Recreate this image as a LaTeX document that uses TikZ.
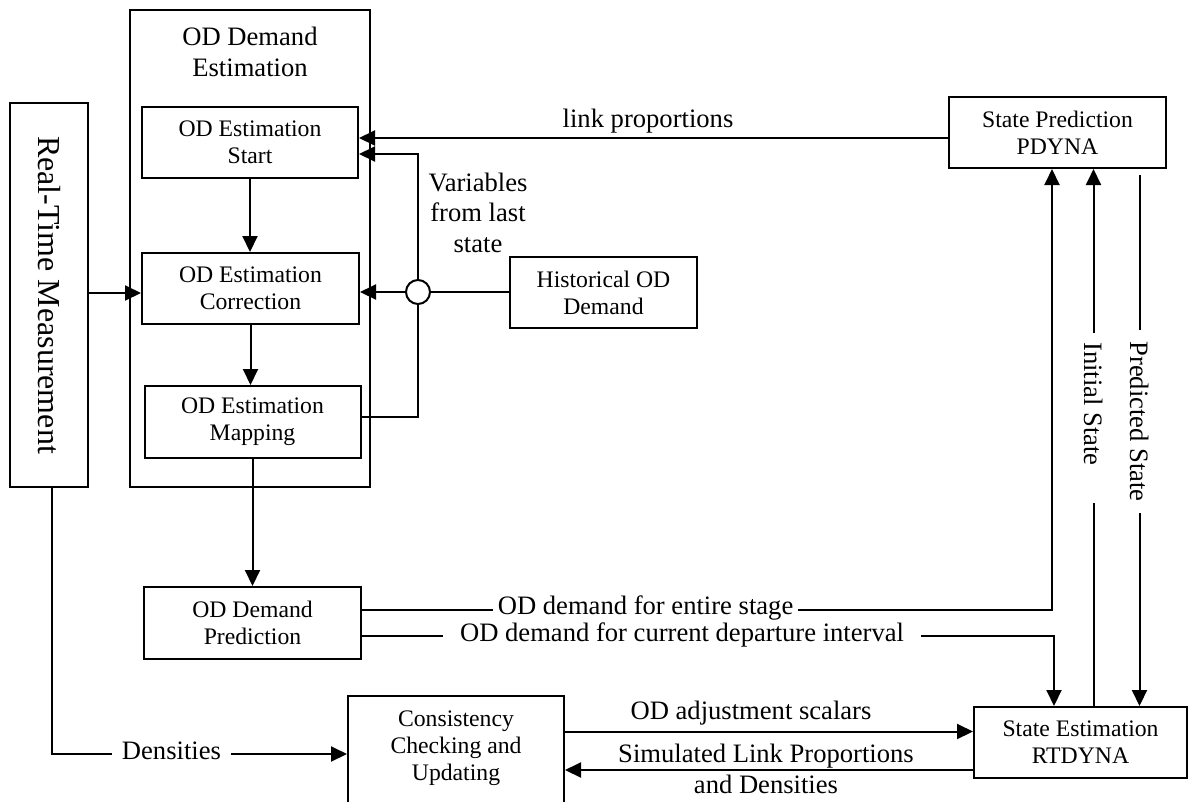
\documentclass[tikz,border=0pt]{standalone}
\usepackage{fontspec}
\setmainfont{Liberation Serif}
\usetikzlibrary{arrows.meta}
\newcommand\bxfont{\fontsize{23.7}{27}\selectfont}
\newcommand\lbfont{\fontsize{26.6}{30.5}\selectfont}
\newcommand\rtfont{\fontsize{32}{34}\selectfont}
\begin{document}
\begin{tikzpicture}[x=1pt,y=-1pt,line width=2pt,
  box/.style={draw,rectangle,inner sep=0pt,align=center,font=\bxfont},
  lbl/.style={font=\lbfont,inner sep=0pt,align=center},
  onlbl/.style={lbl,fill=white,text height=12pt,text depth=2pt},
  arr/.style={-{Triangle[length=16pt,width=15pt]}}]
\useasboundingbox (0,0) rectangle (1189,801);

% estimation block and its steps
\node[box,minimum width=240pt,minimum height=477pt] (odest) at (250,248.5) {};
\node[lbl] (odtitle) at (250,52) {OD Demand\\Estimation};
\node[box,minimum width=216pt,minimum height=71pt] (start) at (250,142.5) {OD Estimation\\Start};
\node[box,minimum width=217pt,minimum height=71pt] (corr) at (250.5,288.5) {OD Estimation\\Correction};
\node[box,minimum width=216pt,minimum height=72pt] (map) at (252.5,422) {OD Estimation\\Mapping};
\node[box,minimum width=217pt,minimum height=72pt] (pred) at (252.5,623) {OD Demand\\Prediction};

% measurement column
\node[box,minimum width=78pt,minimum height=384pt] (rt) at (49,295) {};
\node[font=\rtfont,rotate=-90,inner sep=0pt] (rtlbl) at (49,295) {Real-Time Measurement};

% other blocks
\node[box,minimum width=187pt,minimum height=71pt] (hist) at (603.5,292.5) {Historical OD\\Demand};
\node[box,minimum width=217pt,minimum height=71pt] (sp) at (1057.5,132.5) {State Prediction\\PDYNA};
\node[box,minimum width=213pt,minimum height=71pt] (se) at (1080.5,742.5) {State Estimation\\RTDYNA};
\node[box,minimum width=216pt,minimum height=160pt,anchor=north] (cons) at (456,695) {};
\node[font=\bxfont,align=center,inner sep=0pt] (constext) at (456,748) {Consistency\\Checking and\\Updating};

% junction
\node[draw,circle,fill=white,minimum size=24pt,inner sep=0pt] (junc) at (418,292) {};

% routing points
\coordinate (lp) at (0,138);
\coordinate (rm) at (0,293);
\coordinate (vt) at (418,154);
\coordinate (vb) at (418,417);
\coordinate (es) at (1052,609.5);
\coordinate (cd) at (1054,636);
\coordinate (dn) at (52,754);
\coordinate (oa) at (0,731.5);
\coordinate (sl) at (0,770);
\coordinate (is1) at (1093.5,503);
\coordinate (is2) at (1093.5,333);
\coordinate (ps1) at (1139.5,175);
\coordinate (ps2) at (1139.5,330);
\coordinate (ps3) at (1139.5,513);

% flow inside the estimation block
\draw[arr] (start.south) -- (start.south|-corr.north);
\draw[arr] (corr.south) -- (corr.south|-map.north);
\draw[arr] (map.south) -- (map.south|-pred.north);
\draw[arr] (rt.east|-rm) -- (corr.west|-rm);

% feedback and inputs
\draw[arr] (sp.west|-lp) -- (start.east|-lp);
\node[lbl] (lplbl) at (648,121) {link proportions};
\draw (map.east|-vb) -- (vb) -- (junc.south);
\draw[arr] (junc.north) -- (vt) -- (start.east|-vt);
\node[lbl] (varlbl) at (478,212.5) {Variables\\from last\\state};
\draw (hist.west|-junc) -- (junc.east);
\draw[arr] (junc.west) -- (corr.east|-junc.west);

% demand outputs
\draw[arr] (pred.east|-es) -- node[onlbl,inner xsep=5pt,pos=0.411] (eslbl) {OD demand for entire stage} (es) -- (sp.south-|es);
\draw[arr] (pred.east|-cd) -- node[onlbl,inner xsep=17pt,pos=0.4625] (cdlbl) {OD demand for current departure interval} (cd) -- (se.north-|cd);

% state links
\draw (se.north-|is1) -- (is1);
\draw[arr] (is2) -- (sp.south-|is2);
\node[lbl,rotate=-90] (islbl) at (1093.5,404) {Initial State};
\draw (ps1) -- (ps2);
\draw[arr] (ps3) -- (se.north-|ps3);
\node[lbl,rotate=-90] (pslbl) at (1139.5,421.5) {Predicted State};

% consistency loop
\draw[arr] (dn|-rt.south) -- (dn) -- node[onlbl,inner xsep=10pt,pos=0.405] (dnlbl) {Densities} (cons.west|-dn);
\draw[arr] (cons.east|-oa) -- (se.west|-oa);
\node[lbl] (oalbl) at (751,713) {OD adjustment scalars};
\draw[arr] (se.west|-sl) -- (cons.east|-sl);
\node[lbl,font=\fontsize{26.6}{31}\selectfont] (sllbl) at (766,768.5) {Simulated Link Proportions\\and Densities};
\end{tikzpicture}
\end{document}
